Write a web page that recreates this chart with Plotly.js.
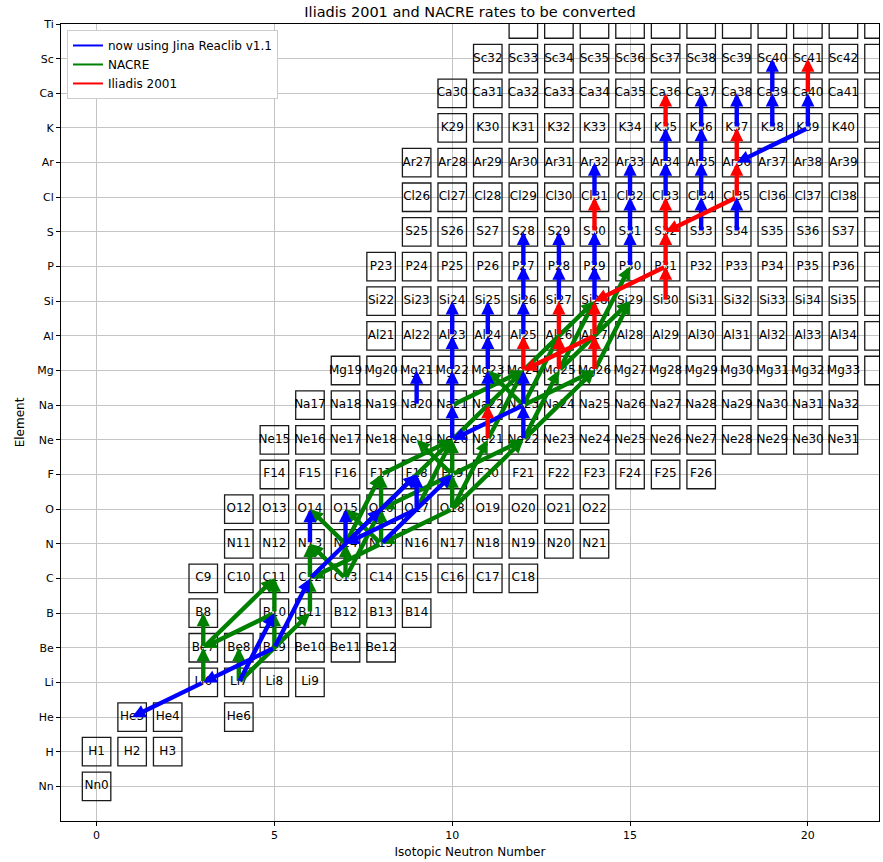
<!DOCTYPE html>
<html><head><meta charset="utf-8">
<script src="https://cdn.plot.ly/plotly-3.0.1.min.js"></script>
<style>html,body{margin:0;padding:0;background:#fff}#chart{width:883px;height:862px}</style>
</head><body><div id="chart"></div>
<script>
// ---- data ----
const elementSymbols = ['Nn','H','He','Li','Be','B','C','N','O','F','Ne','Na','Mg','Al','Si','P','S','Cl','Ar','K','Ca','Sc','Ti'];
const isotopeNMin = [0,0,1,3,3,3,3,4,4,5,5,6,7,8,8,8,9,9,9,10,10,11,12];
const isotopeNMax = [0,2,4,6,8,9,12,14,14,17,21,21,22,22,22,22,22,22,22,22,22,22,22];
const missingIsotopes = ['He5','B9'];
const xTickVals = [0,5,10,15,20];

const jinaFrom = ['Li6','Be9','Li7','Be9','N13','N14','C12','N14','N15','O17','O17','Na23',
  'Ne20','Na21','Mg22','Al23','Na22','Mg23','Al24','Ne22','Na23','Al25','Si26','P27',
  'Si27','P28','Si28','P29','Cl31','P30','S31','Cl32','Cl33','Ar34','S33','Cl34','Ar35','K36',
  'S34','K37','K38','Ca39','K39','K39','Na20'];
const jinaTo = ['He3','Li6','B10','C12','O14','O15','O16','F18','F19','F18','N14','Ne20',
  'Na21','Mg22','Al23','Si24','Mg23','Al24','Si25','Na23','Mg24','Si26','P27','S28',
  'P28','S29','P29','S30','Ar32','S31','Cl32','Ar33','Ar34','K35','Cl34','Ar35','K36','Ca37',
  'Cl35','Ca38','Ca39','Sc40','Ca40','Ar36','Mg21'];

const nacreFrom = ['Li6','Be7','Li7','Be9','B10','B10','Be7','Li7','B11',
  'C12','C13','C13','C13','N14','N15','N15','N14','O16','N15','O18','F19','O18','F19',
  'O16','O17','O18','O18','F19','F17','F19','Ne20','Ne21','Ne22','Ne22','Na21','Na23',
  'Na23','Na23','Mg24','Mg25','Mg25','Mg26','Al27'];
const nacreTo = ['Be7','B8','Be8','B10','C11','Be7','C11','B11','C12',
  'N13','N14','N13','O16','O14','O15','O16','F17','F17','C12','N15','O16','F19','Ne20',
  'Ne20','Ne20','Ne21','Ne22','Ne22','Ne20','Ne19','Mg24','Mg24','Mg25','Mg26','Mg24','Mg23',
  'Mg26','Al26','Si28','Si28','Si29','Si29','P30'];

const iliadisFrom = ['Ne21','Mg24','Mg25','Al26','Mg26','Al27','Al27','S30','Si30','P31','S32',
  'P31','Cl35','Cl35','Ar36','K35','Ca40'];
const iliadisTo = ['Na22','Al25','Al26','Si27','Al27','Si28','Mg24','Cl31','P31','S32','Cl33',
  'Si28','S32','Ar36','K37','Ca36','Sc41'];

const seriesNames = ['now using Jina Reaclib v1.1','NACRE','Iliadis 2001'];
const seriesColors = ['#0000ff','#008000','#ff0000'];

// ---- helpers ----
function nuc(name){
  const m = name.match(/^([A-Za-z]+)(\d+)$/);
  const z = elementSymbols.indexOf(m[1]);
  return {z: z, n: parseInt(m[2],10) - z};
}

// nuclide boxes
const boxN = [], boxZ = [], boxText = [];
for (let z = 0; z < elementSymbols.length; z++){
  for (let n = isotopeNMin[z]; n <= isotopeNMax[z]; n++){
    const label = elementSymbols[z] + (n + z);
    if (missingIsotopes.indexOf(label) >= 0) continue;
    boxN.push(n); boxZ.push(z);
    boxText.push((n < 22 && z < 22) ? label : '');
  }
}

const traces = [{
  x: boxN, y: boxZ, text: boxText, type: 'scatter', mode: 'markers+text',
  textposition: 'middle center',
  textfont: {family: 'DejaVu Sans', size: 12, color: '#000'},
  marker: {symbol: 'square-open', size: 28.5, color: '#1a1a1a', line: {width: 1.3, color: '#1a1a1a'}},
  cliponaxis: true, showlegend: false, hoverinfo: 'skip'
}];
seriesNames.forEach((nm, i) => traces.push({
  x: [null], y: [null], type: 'scatter', mode: 'lines', name: nm,
  line: {color: seriesColors[i], width: 2}, showlegend: true
}));

const annotations = [];
function addArrows(from, to, color){
  for (let i = 0; i < from.length; i++){
    const a = nuc(from[i]), b = nuc(to[i]);
    annotations.push({
      x: b.n, y: b.z, ax: a.n, ay: a.z,
      xref: 'x', yref: 'y', axref: 'x', ayref: 'y',
      text: '', showarrow: true, arrowhead: 2, arrowsize: 0.6,
      arrowwidth: 4.4, arrowcolor: color, standoff: 0
    });
  }
}
addArrows(nacreFrom, nacreTo, seriesColors[1]);
addArrows(jinaFrom, jinaTo, seriesColors[0]);
addArrows(iliadisFrom, iliadisTo, seriesColors[2]);

const layout = {
  width: 883, height: 862,
  margin: {l: 61, r: 4, t: 24, b: 41},
  paper_bgcolor: '#fff', plot_bgcolor: '#fff',
  font: {family: 'DejaVu Sans', color: '#000', size: 11},
  title: {text: 'Iliadis 2001 and NACRE rates to be converted', font: {size: 14.5, color: '#000'},
    x: 0.5, xref: 'paper', y: 1 - 12/862, yref: 'container', yanchor: 'middle'},
  xaxis: {range: [-1, 22], tickvals: xTickVals, ticktext: xTickVals.map(String),
    ticks: 'outside', ticklen: 4, tickcolor: '#000', showline: true, mirror: true,
    linecolor: '#000', linewidth: 1, showgrid: true, gridcolor: '#c4c4c4', gridwidth: 1,
    zeroline: false, tickfont: {size: 11},
    title: {text: 'Isotopic Neutron Number', font: {size: 12}, standoff: 6}},
  yaxis: {range: [-1, 22], tickvals: elementSymbols.map((s, i) => i), ticktext: elementSymbols,
    ticks: 'outside', ticklen: 4, tickcolor: '#000', showline: true, mirror: true,
    linecolor: '#000', linewidth: 1, showgrid: true, gridcolor: '#c4c4c4', gridwidth: 1,
    zeroline: false, tickfont: {size: 11},
    title: {text: 'Element', font: {size: 12}, standoff: 10}},
  legend: {x: 0.0073, y: 0.9925, xanchor: 'left', yanchor: 'top', bgcolor: '#fff',
    bordercolor: '#cccccc', borderwidth: 1, font: {size: 12}, tracegroupgap: 0},
  showlegend: true,
  annotations: annotations
};

Plotly.newPlot('chart', traces, layout, {displayModeBar: false, staticPlot: true});
</script></body></html>
